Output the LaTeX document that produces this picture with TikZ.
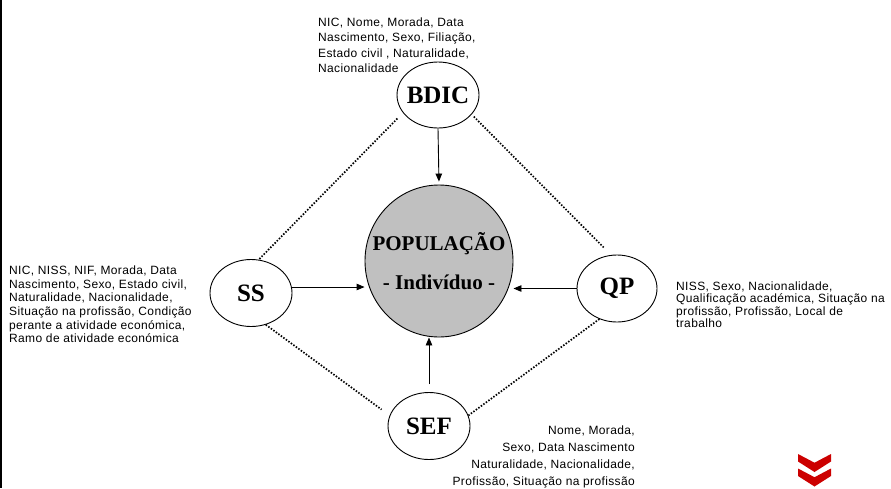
\documentclass[tikz,border=0pt]{standalone}
\usepackage{fontspec}
\setmainfont{Liberation Serif}
\newfontfamily\txtfont[LetterSpace=3]{Liberation Sans}
\usetikzlibrary{shapes.geometric,arrows.meta}
\definecolor{popgray}{RGB}{192,192,192}
\definecolor{chevred}{RGB}{204,0,0}
\newcommand\zbox[1]{\makebox[0pt]{#1}}
\begin{document}
\begin{tikzpicture}[x=1pt,y=-1pt,
  src/.style={ellipse,draw,line width=0.9pt,inner sep=0pt,fill=white,
    font=\bfseries\fontsize{25}{25}\selectfont},
  popnode/.style={ellipse,draw,line width=0.9pt,inner sep=0pt,fill=popgray,
    align=center,font=\bfseries\fontsize{21}{39}\selectfont},
  info/.style={inner sep=0pt,align=left},
  arr/.style={-{Triangle[length=8pt,width=6.5pt]},line width=0.9pt},
  dots/.style={line width=1.7pt,dash pattern=on 1.5pt off 1.6pt},
]
\useasboundingbox (0,0) rectangle (891,488);
\draw[line width=2pt] (1,0) -- (1,488);

% nodes
\node[src,minimum width=82pt,minimum height=66pt] (bdic) at (438,95) {\zbox{BDIC}};
\node[popnode,minimum width=148pt,minimum height=152pt] (pop) at (439,261)
  {\zbox{POPULAÇÃO}\\\zbox{- Indivíduo -}};
\node[src,minimum width=82pt,minimum height=67pt] (ss) at (251,293) {\zbox{SS}};
\node[src,minimum width=80pt,minimum height=67pt] (qp) at (617,288.5) {\zbox{QP}};
\node[src,minimum width=82pt,minimum height=67pt] (sef) at (429,426) {\zbox{SEF}};

% helper coordinate for the SS arrow height
\coordinate (yss) at (0,287);

% arrows into the centre
\draw[arr,shorten >=3pt] (bdic.south) -- (pop.north);
\draw[arr] (ss.east |- yss) -- (pop.west |- yss);
\draw[arr] (qp.west) -- (qp.west -| pop.east);
\draw[arr] ([yshift=8pt]sef.north) -- (sef.north |- pop.south);

% dotted links
\draw[dots,shorten <=8pt] (bdic.207) -- (ss.77);
\draw[dots,shorten <=3pt,shorten >=10pt] (bdic.330) -- (qp.100);
\draw[dots,shorten >=10pt] (ss.295) -- (sef.165);
\draw[dots] (qp.240) -- (sef.15);

% info texts
\node[info,anchor=north west,font=\txtfont\fontsize{12}{15.5}\selectfont] (tbdic) at (318,17.5)
  {NIC, Nome, Morada, Data\\Nascimento, Sexo, Filiação,\\Estado civil , Naturalidade,\\Nacionalidade};
\node[info,anchor=north west,font=\txtfont\fontsize{12}{13.6}\selectfont] (tss) at (9,265.7)
  {NIC, NISS, NIF, Morada, Data\\Nascimento, Sexo, Estado civil,\\Naturalidade, Nacionalidade,\\Situação na profissão, Condição\\perante a atividade económica,\\Ramo de atividade económica};
\node[info,anchor=north west,font=\txtfont\fontsize{12}{12.3}\selectfont] (tqp) at (676,281.7)
  {NISS, Sexo, Nacionalidade,\\Qualificação académica, Situação na\\profissão, Profissão, Local de\\trabalho};
\node[info,align=right,anchor=north east,font=\txtfont\fontsize{12}{17}\selectfont] (tsef) at (635,426)
  {Nome, Morada,\\Sexo, Data Nascimento\\Naturalidade, Nacionalidade,\\Profissão, Situação na profissão};

% red chevrons
\fill[chevred] (798,454) -- (814.5,462.7) -- (831,454) -- (831,461.5) -- (814.5,472) -- (798,461.5) -- cycle;
\fill[chevred] (798,468.5) -- (814.5,477.2) -- (831,468.5) -- (831,476) -- (814.5,486.5) -- (798,476) -- cycle;
\end{tikzpicture}
\end{document}
